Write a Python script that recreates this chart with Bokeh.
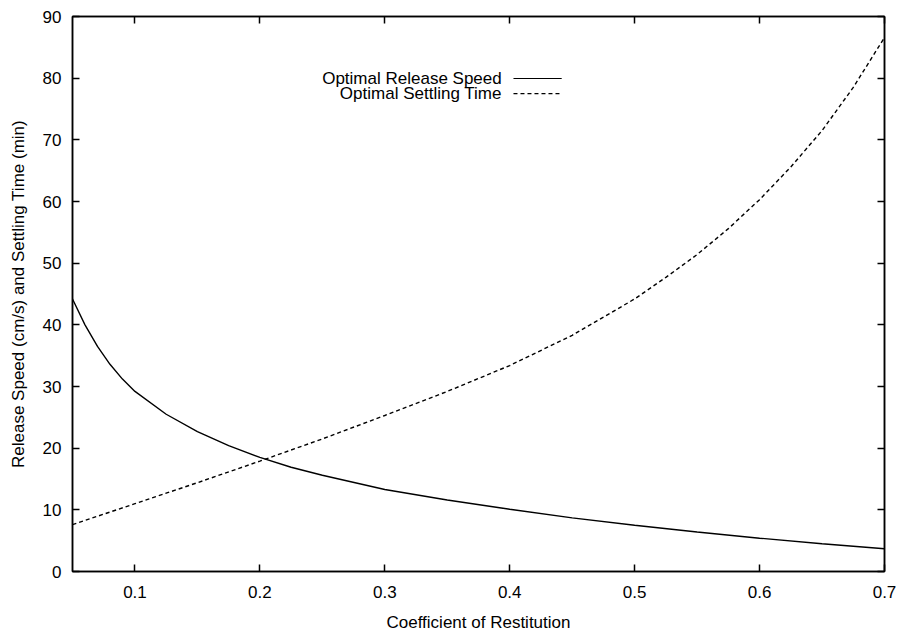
from bokeh.plotting import figure
from bokeh.models import Range1d, LinearAxis, FixedTicker, Label, Arrow
from bokeh.embed import file_html
from bokeh.resources import INLINE

# ---- data ----
restitution_speed = [0.05, 0.06, 0.07, 0.08, 0.09, 0.10, 0.125, 0.15, 0.175, 0.20,
                     0.225, 0.25, 0.30, 0.35, 0.40, 0.45, 0.50, 0.55, 0.60, 0.65, 0.70]
release_speed = [44.2, 40.0, 36.5, 33.6, 31.2, 29.2, 25.5, 22.7, 20.4, 18.5,
                 16.9, 15.6, 13.3, 11.6, 10.1, 8.7, 7.5, 6.4, 5.4, 4.5, 3.7]

restitution_time = [0.05, 0.10, 0.15, 0.20, 0.25, 0.30, 0.35, 0.40, 0.45, 0.50,
                    0.525, 0.55, 0.575, 0.60, 0.625, 0.65, 0.675, 0.70]
settling_time = [7.6, 11.0, 14.4, 17.9, 21.5, 25.3, 29.2, 33.4, 38.3, 44.2,
                 47.7, 51.4, 55.6, 60.3, 65.6, 71.5, 78.5, 86.6]

x_ticks = [0.1, 0.2, 0.3, 0.4, 0.5, 0.6, 0.7]
y_ticks = [0, 10, 20, 30, 40, 50, 60, 70, 80, 90]

series_names = ["Optimal Release Speed", "Optimal Settling Time"]
x_title = "Coefficient of Restitution"
y_title = "Release Speed (cm/s) and Settling Time (min)"

FONT = "Liberation Sans"
FS = "17px"

p = figure(width=897, height=634, output_backend="svg", toolbar_location=None,
           x_range=Range1d(0.05, 0.7), y_range=Range1d(0, 90),
           min_border_left=72, min_border_right=13, min_border_top=16,
           min_border_bottom=61, background_fill_color="white",
           border_fill_color="white")
p.grid.visible = False
p.outline_line_color = "black"
p.outline_line_width = 1.5

p.xaxis.ticker = FixedTicker(ticks=x_ticks)
p.yaxis.ticker = FixedTicker(ticks=y_ticks)
p.xaxis.axis_label = x_title
p.yaxis.axis_label = y_title

for ax in (p.xaxis[0], p.yaxis[0]):
    ax.major_tick_in = 7
    ax.major_tick_out = 0
    ax.minor_tick_line_color = None
    ax.axis_line_color = "black"
    ax.axis_line_width = 1.5
    ax.major_tick_line_width = 1.5
    ax.major_label_text_font = FONT
    ax.major_label_text_font_size = FS
    ax.major_label_text_color = "black"
    ax.axis_label_text_font = FONT
    ax.axis_label_text_font_size = FS
    ax.axis_label_text_font_style = "normal"
    ax.axis_label_text_color = "black"

p.yaxis.major_label_standoff = 11
p.yaxis.axis_label_standoff = 12
p.xaxis.major_label_standoff = 14
p.xaxis.axis_label_standoff = 12

# mirrored ticks on top and right (no labels)
for loc, ticks in (("above", x_ticks), ("right", y_ticks)):
    ax = LinearAxis(ticker=FixedTicker(ticks=ticks),
                    major_label_overrides={t: "" for t in ticks})
    ax.major_tick_in = 7
    ax.major_tick_out = 0
    ax.minor_tick_line_color = None
    ax.major_tick_line_width = 1.5
    ax.axis_line_color = "black"
    ax.axis_line_width = 1.5
    ax.major_label_standoff = 0
    ax.major_label_text_font_size = "1px"
    p.add_layout(ax, loc)

p.line(restitution_speed, release_speed, line_color="black", line_width=1.4)
p.line(restitution_time, settling_time, line_color="black", line_width=1.4,
       line_dash="4 3")

# gnuplot-style key: text right-aligned, sample to its right
key_text_x = 0.3936
key_line_x0, key_line_x1 = 0.403, 0.4416
key_rows_y = [79.95, 77.5]
key_dashes = ["solid", "4 3"]
for name, ky, dash in zip(series_names, key_rows_y, key_dashes):
    p.add_layout(Label(x=key_text_x, y=ky, text=name, text_align="right",
                       text_baseline="middle", text_font=FONT,
                       text_font_size=FS, text_color="black"))
    p.add_layout(Arrow(end=None, x_start=key_line_x0, y_start=ky,
                       x_end=key_line_x1, y_end=ky, line_color="black",
                       line_width=1.2, line_dash=dash))

open("out.html", "w").write(file_html(p, INLINE))
